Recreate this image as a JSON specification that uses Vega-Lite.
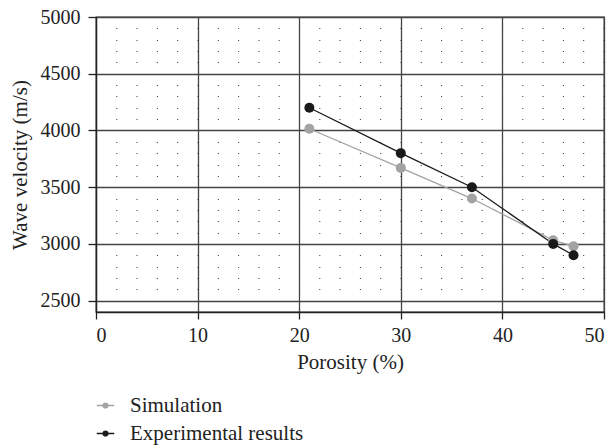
{
  "$schema": "https://vega.github.io/schema/vega-lite/v6.json",
  "width": 508,
  "height": 295,
  "autosize": "none",
  "padding": {"left": 96, "top": 17, "right": 10, "bottom": 133},
  "config": {
    "font": "Liberation Serif",
    "view": {"stroke": "#333333", "strokeWidth": 1.3},
    "axis": {"labelFont": "Liberation Serif", "titleFont": "Liberation Serif", "labelFontSize": 20, "titleFontSize": 21, "titleFontWeight": "normal", "labelColor": "#222222", "titleColor": "#222222"}
  },
  "data": {
    "values": [
      {"series": "Simulation", "porosity": 21, "velocity": 4015},
      {"series": "Simulation", "porosity": 30, "velocity": 3670},
      {"series": "Simulation", "porosity": 37, "velocity": 3400},
      {"series": "Simulation", "porosity": 45, "velocity": 3032},
      {"series": "Simulation", "porosity": 47, "velocity": 2980},
      {"series": "Experimental results", "porosity": 21, "velocity": 4200},
      {"series": "Experimental results", "porosity": 30, "velocity": 3800},
      {"series": "Experimental results", "porosity": 37, "velocity": 3500},
      {"series": "Experimental results", "porosity": 45, "velocity": 3000},
      {"series": "Experimental results", "porosity": 47, "velocity": 2900}
    ]
  },
  "layer": [
    {
      "mark": {"type": "point", "opacity": 0},
      "encoding": {
        "x": {"field": "porosity", "type": "quantitative", "scale": {"domain": [0, 50]}, "axis": null},
        "y": {"field": "velocity", "type": "quantitative", "scale": {"domain": [2500, 5000]},
          "axis": {"orient": "right", "values": [2600, 2700, 2800, 2900, 3100, 3200, 3300, 3400, 3600, 3700, 3800, 3900, 4100, 4200, 4300, 4400, 4600, 4700, 4800, 4900],
            "grid": true, "gridDash": [1, 19.3], "gridColor": "#333333", "gridWidth": 1, "gridOpacity": 1,
            "labels": false, "ticks": false, "domain": false, "title": null}}
      }
    },
    {
      "mark": {"type": "line", "strokeWidth": 1.3},
      "encoding": {
        "x": {"field": "porosity", "type": "quantitative", "scale": {"domain": [0, 50]},
          "axis": {"title": "Porosity (%)", "values": [0, 10, 20, 30, 40, 50], "grid": true, "gridColor": "#444444", "gridWidth": 1.3, "gridOpacity": 1,
            "tickSize": 7, "tickColor": "#222222", "tickWidth": 1.3, "domainColor": "#222222", "domainWidth": 1.3, "labelPadding": 6, "titlePadding": 6}},
        "y": {"field": "velocity", "type": "quantitative", "scale": {"domain": [2500, 5000]},
          "axis": {"title": "Wave velocity (m/s)", "format": "d", "values": [2500, 3000, 3500, 4000, 4500, 5000], "grid": true, "gridColor": "#444444", "gridWidth": 1.3, "gridOpacity": 1,
            "tickSize": 8, "tickColor": "#222222", "tickWidth": 1.3, "domainColor": "#222222", "domainWidth": 1.3, "labelPadding": 8, "titlePadding": 10}},
        "color": {"field": "series", "type": "nominal",
          "scale": {"domain": ["Simulation", "Experimental results"], "range": ["#a3a3a3", "#1a1a1a"]},
          "legend": {"title": null, "orient": "none", "legendX": -1, "legendY": 378, "direction": "vertical",
            "symbolType": "M-1,0L1,0M-0.28,0A0.28,0.28 0 1,0 0.28,0A0.28,0.28 0 1,0 -0.28,0Z",
            "symbolSize": 306, "symbolStrokeWidth": 1.3, "labelFontSize": 21, "labelFont": "Liberation Serif", "labelColor": "#222222", "labelOffset": 14, "labelLimit": 400, "rowPadding": 6,
            "encode": {"symbols": {"update": {"fill": {"scale": "color", "field": "value"}, "stroke": {"scale": "color", "field": "value"}, "strokeWidth": {"value": 1.3}}}}}}
      }
    },
    {
      "mark": {"type": "point", "filled": true, "size": 100, "opacity": 1},
      "encoding": {
        "x": {"field": "porosity", "type": "quantitative", "axis": null},
        "y": {"field": "velocity", "type": "quantitative", "axis": null},
        "color": {"field": "series", "type": "nominal", "legend": null}
      }
    }
  ],
  "resolve": {"axis": {"x": "independent", "y": "independent"}}
}
